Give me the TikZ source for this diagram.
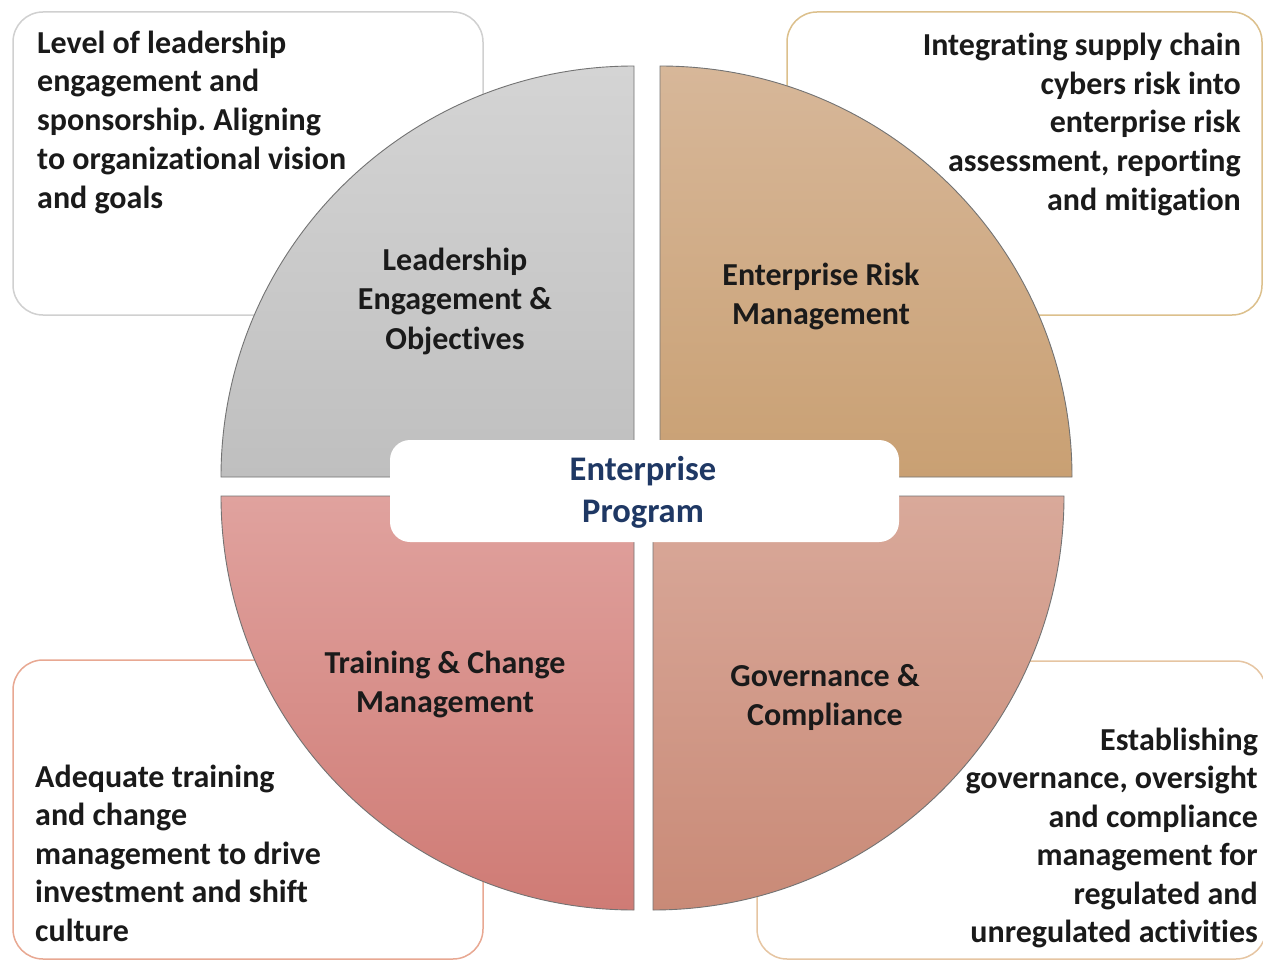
\documentclass[tikz,border=0pt]{standalone}
\usepackage{fontspec}
\setmainfont{Carlito}[Ligatures=NoCommon]
\frenchspacing
\definecolor{tlTop}{HTML}{D4D4D4}
\definecolor{tlBot}{HTML}{BFBFBF}
\definecolor{trTop}{HTML}{D7B799}
\definecolor{trBot}{HTML}{C9A073}
\definecolor{blTop}{HTML}{E0A29E}
\definecolor{blBot}{HTML}{CF7B75}
\definecolor{brTop}{HTML}{D9A99A}
\definecolor{brBot}{HTML}{C98A77}
\definecolor{tlEdge}{HTML}{D0D0D0}
\definecolor{trEdge}{HTML}{DCC08C}
\definecolor{blEdge}{HTML}{E8A892}
\definecolor{brEdge}{HTML}{E6C5A2}
\definecolor{hubText}{HTML}{1F3864}
\definecolor{bodyText}{HTML}{1A1A1A}
% fixed-height opener so that a node's top edge sits a known distance above its first baseline
\newcommand\firstline{\rule{0pt}{30pt}}
\begin{document}
\begin{tikzpicture}[x=1pt,y=-1pt,
  infobox/.style={rectangle, rounded corners=30pt, line width=1.5pt, fill=white, inner sep=0pt},
  slice/.style={draw=black!55, line width=0.9pt},
  boxtext/.style={inner sep=0pt, text=bodyText, font=\fontsize{32}{38.5}\selectfont\bfseries},
  uppertext/.style={boxtext, font=\fontsize{32}{38.8}\selectfont\bfseries},
  slicetext/.style={inner sep=0pt, anchor=north, text=bodyText, align=center, font=\fontsize{32}{39.5}\selectfont\bfseries},
  hubtext/.style={inner sep=0pt, anchor=north, text=hubText, align=center, font=\fontsize{34.5}{42}\selectfont\bfseries}]
\useasboundingbox (0,0) rectangle (1263,960);
\fill[white] (0,0) rectangle (1263,960);

% outer description boxes
\node[infobox, draw=tlEdge, minimum width=470pt, minimum height=303pt] (tlbox) at (248,163.5) {};
\node[infobox, draw=trEdge, minimum width=475pt, minimum height=303pt] (trbox) at (1024.5,163.5) {};
\node[infobox, draw=blEdge, minimum width=470pt, minimum height=299pt] (blbox) at (248,809.5) {};
\node[infobox, draw=brEdge, minimum width=509pt, minimum height=298pt] (brbox) at (1011.5,810) {};

% four quarter-circle segments
\shade[slice, top color=tlTop, bottom color=tlBot]
  (634,477) -- (221,477) arc[start angle=180, end angle=270, x radius=413, y radius=411] -- cycle;
\shade[slice, top color=trTop, bottom color=trBot]
  (660,477) -- (660,66) arc[start angle=270, end angle=360, x radius=412, y radius=411] -- cycle;
\shade[slice, top color=blTop, bottom color=blBot]
  (634,496) -- (634,910) arc[start angle=90, end angle=180, x radius=413, y radius=414] -- cycle;
\shade[slice, top color=brTop, bottom color=brBot]
  (653,496) -- (1064,496) arc[start angle=0, end angle=90, x radius=411, y radius=414] -- cycle;

% central hub
\node[rectangle, rounded corners=20pt, fill=white, minimum width=509pt, minimum height=102pt, inner sep=0pt] (hub) at (644.5,491) {};
\node[hubtext] (hublabel) at (643,450) {\firstline Enterprise\\Program};

% segment titles
\node[slicetext] (tllabel) at (455,240) {\firstline Leadership\\Engagement \&\\Objectives};
\node[slicetext] (trlabel) at (821,255) {\firstline Enterprise Risk\\Management};
\node[slicetext] (bllabel) at (445,643) {\firstline Training \& Change\\Management};
\node[slicetext] (brlabel) at (825,656) {\firstline Governance \&\\Compliance};

% descriptions
\node[uppertext, align=left, anchor=north west] (tltext) at (37,23)
  {\firstline Level of leadership\\engagement and\\sponsorship. Aligning\\to organizational vision\\and goals};
\node[uppertext, align=right, anchor=north east] (trtext) at (1241,25)
  {\firstline Integrating supply chain\\cybers risk into\\enterprise risk\\assessment, reporting\\and mitigation};
\node[boxtext, align=left, anchor=north west] (bltext) at (35,757)
  {\firstline Adequate training\\and change\\management to drive\\investment and shift\\culture};
\node[boxtext, align=right, anchor=north east] (brtext) at (1258,720)
  {\firstline Establishing\\governance, oversight\\and compliance\\management for\\regulated and\\unregulated activities};
\end{tikzpicture}
\end{document}
